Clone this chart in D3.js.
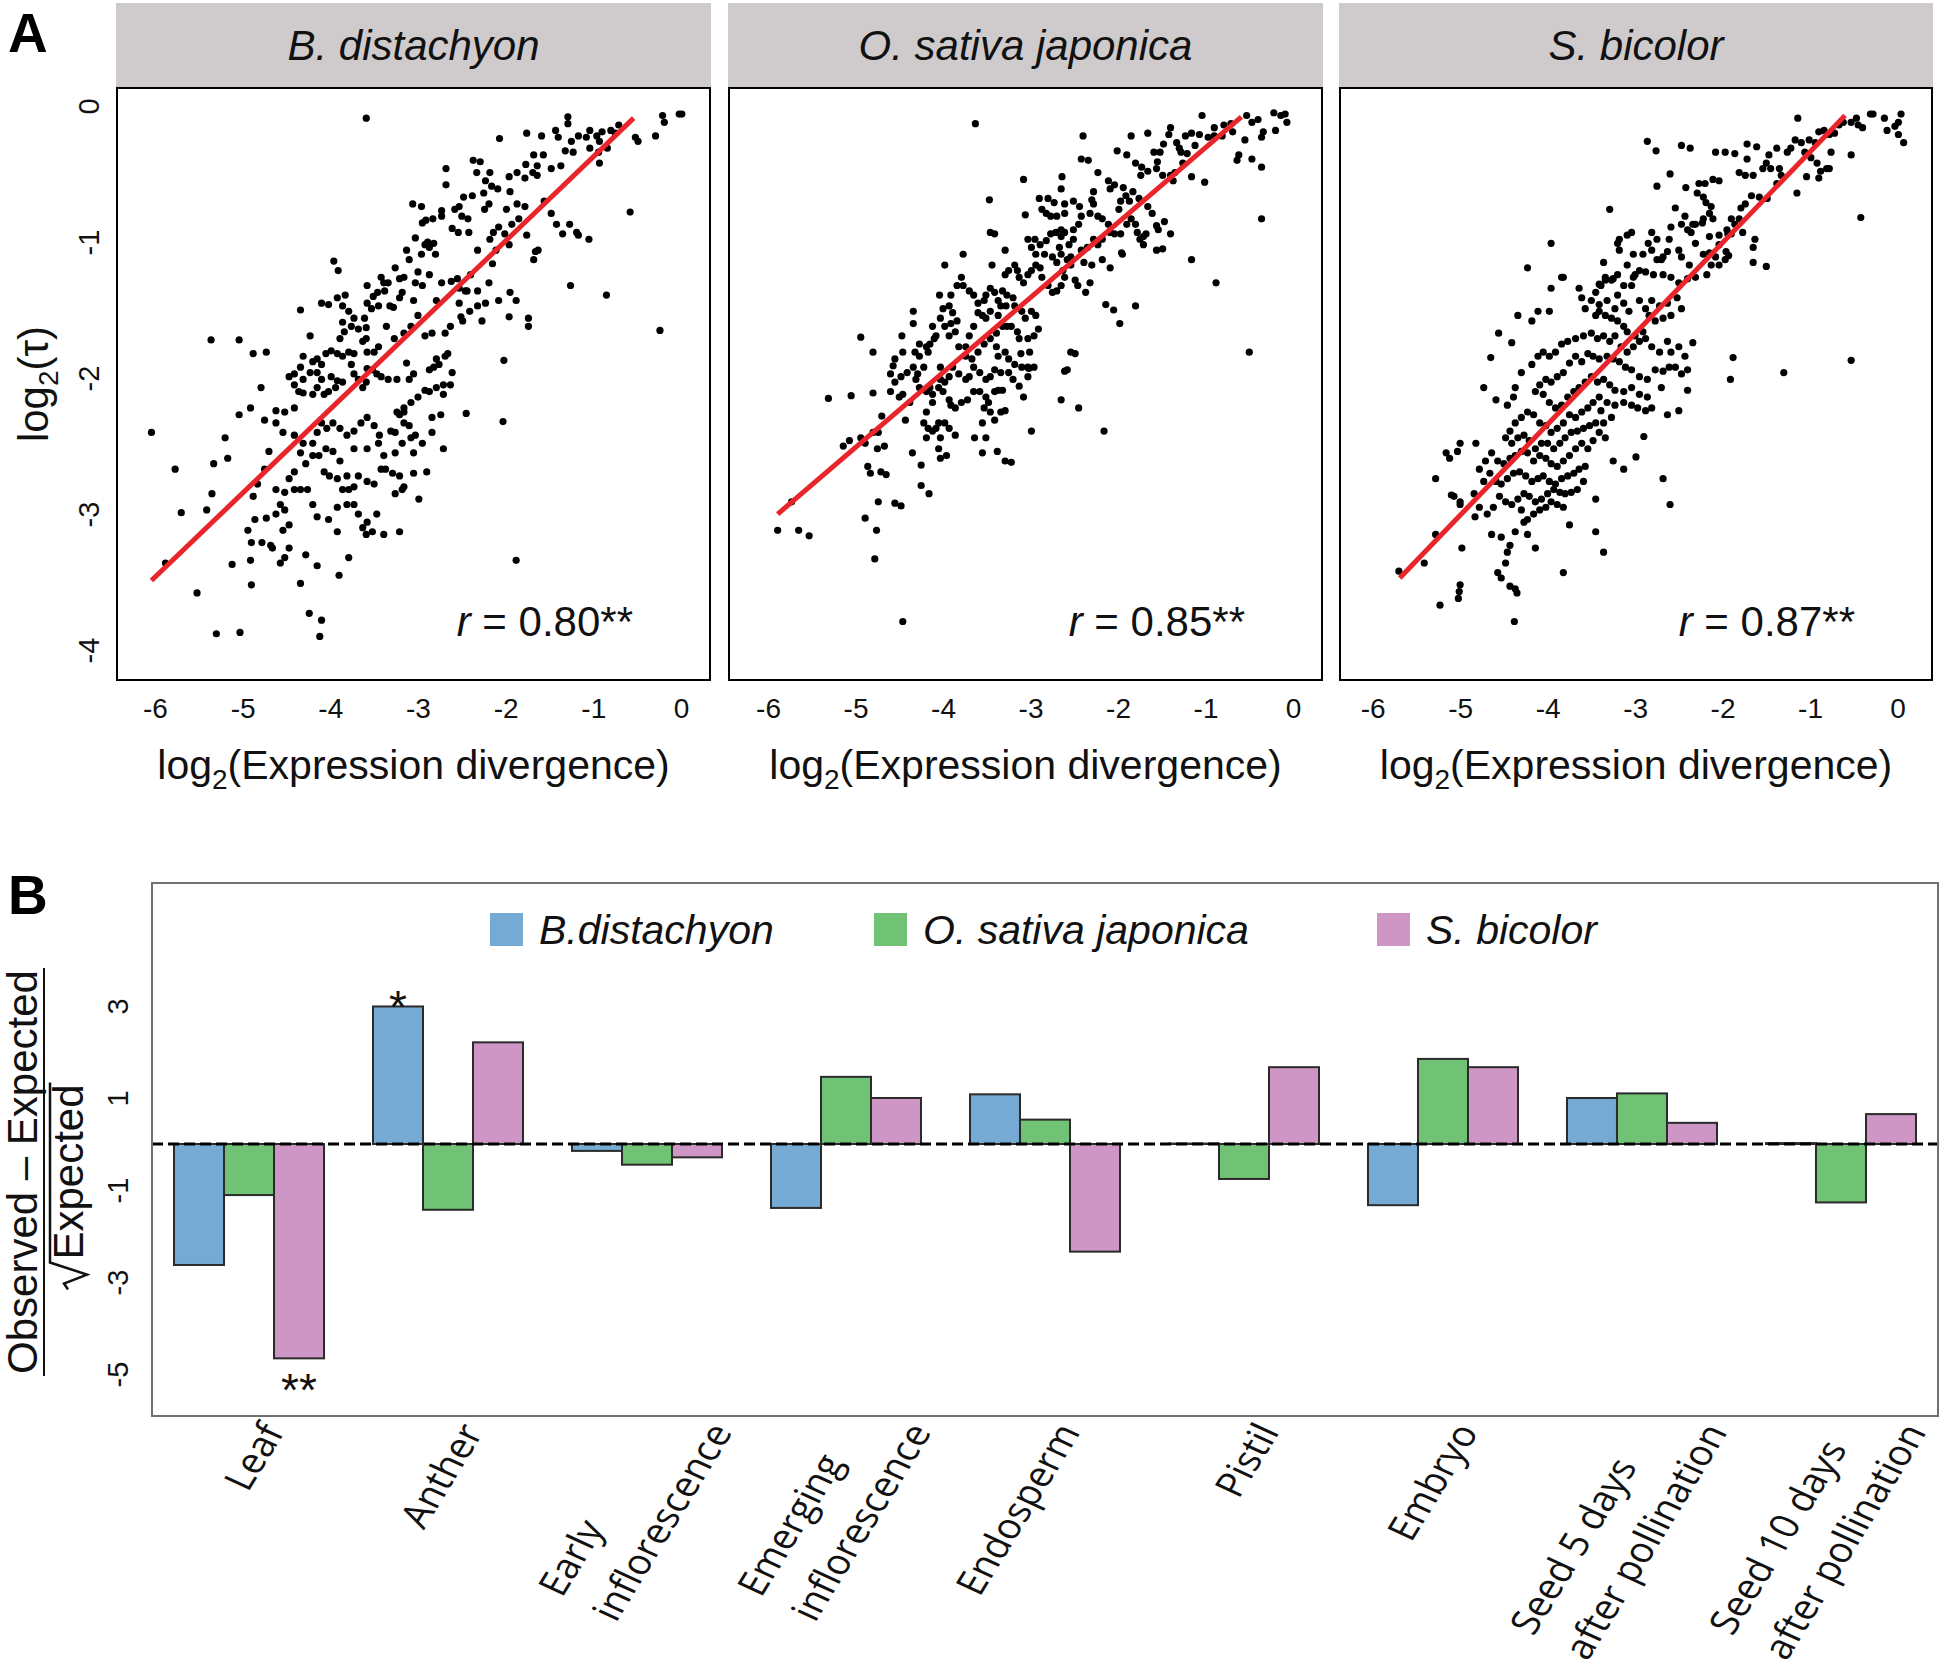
<!DOCTYPE html>
<html><head><meta charset="utf-8">
<script src="https://cdn.jsdelivr.net/npm/d3@7"></script>
<style>body{margin:0;background:#fff}</style>
</head><body>
<script>
// ---------------- DATA ----------------
const speciesNames = ["B. distachyon", "O. sativa japonica", "S. bicolor"];
const rValues = ["0.80", "0.85", "0.87"];
const xTicksA = [-6, -5, -4, -3, -2, -1, 0];
const yTicksA = [0, -1, -2, -3, -4];

const fitBd = {x0: -6.04, x1: -0.54, slope: 0.618, intercept: 0.244};
const fitOs = {x0: -5.89, x1: -0.59, slope: 0.551, intercept: 0.245};
const fitSb = {x0: -5.69, x1: -0.60, slope: 0.668, intercept: 0.331};

const pointsBd = [[-3.59,-0.09],[-1.29,-0.08],[-1.29,-0.13],[-0.21,-0.07],[-0.02,-0.06],[0.01,-0.06],[-0.19,-0.12],[-0.29,-0.22],[-0.52,-0.23],[-0.49,-0.26],[-0.58,-0.78],[-0.24,-1.65],[-1.26,-1.32],[-0.85,-1.39],[-1.05,-0.98],[-1.04,-0.18],[-0.96,-0.22],[-0.90,-0.19],[-0.80,-0.18],[-0.71,-0.14],[-0.75,-0.20],[-0.93,-0.26],[-0.84,-0.31],[-0.94,-0.34],[-0.93,-0.42],[-1.04,-0.31],[-1.08,-0.23],[-1.17,-0.22],[-1.25,-0.26],[-1.23,-0.34],[-1.32,-0.33],[-1.40,-0.23],[-1.43,-0.18],[-1.59,-0.22],[-1.76,-0.20],[-2.07,-0.24],[-1.68,-0.36],[-1.57,-0.36],[-1.37,-0.44],[-1.48,-0.46],[-1.64,-0.44],[-1.69,-0.49],[-1.77,-0.43],[-1.78,-0.53],[-1.87,-0.49],[-1.96,-0.52],[-1.95,-0.63],[-2.09,-0.61],[-2.16,-0.59],[-2.18,-0.49],[-2.29,-0.41],[-2.37,-0.40],[-2.33,-0.49],[-2.23,-0.55],[-2.25,-0.64],[-2.19,-0.72],[-2.24,-0.76],[-2.38,-0.66],[-2.48,-0.67],[-2.53,-0.74],[-2.58,-0.76],[-2.50,-0.81],[-2.43,-0.83],[-2.42,-0.93],[-2.54,-0.93],[-2.61,-0.90],[-2.68,-0.58],[-2.68,-0.46],[-2.73,-0.77],[-2.73,-0.81],[-2.83,-0.83],[-2.91,-0.84],[-2.95,-0.86],[-3.06,-0.72],[-2.96,-0.74],[-3.03,-0.97],[-2.89,-1.00],[-2.82,-1.01],[-2.80,-1.09],[-2.87,-1.04],[-2.92,-1.02],[-2.96,-1.09],[-3.13,-1.06],[-3.10,-1.13],[-3.16,-1.26],[-3.26,-1.19],[-3.21,-1.27],[-3.00,-1.22],[-3.03,-1.30],[-3.05,-1.43],[-2.95,-1.32],[-2.87,-1.24],[-2.79,-1.43],[-2.73,-1.30],[-2.62,-1.29],[-2.55,-1.27],[-2.53,-1.34],[-2.46,-1.36],[-2.40,-1.24],[-2.32,-1.06],[-2.18,-0.98],[-2.14,-0.93],[-2.08,-0.89],[-1.99,-0.76],[-1.93,-0.87],[-1.87,-0.72],[-1.85,-0.83],[-1.78,-0.74],[-1.76,-0.95],[-1.66,-1.07],[-1.63,-1.06],[-1.68,-1.13],[-2.01,-0.94],[-1.96,-1.02],[-2.11,-1.06],[-2.15,-1.16],[-2.19,-1.30],[-2.32,-1.36],[-2.44,-1.36],[-2.41,-1.51],[-2.51,-1.55],[-2.49,-1.58],[-2.32,-1.47],[-2.23,-1.45],[-2.08,-1.43],[-1.95,-1.37],[-1.96,-1.55],[-1.88,-1.43],[-1.74,-1.56],[-1.74,-1.62],[-2.02,-1.87],[-2.03,-2.32],[-1.88,-3.34],[-1.64,-0.51],[-1.56,-0.70],[-1.48,-0.79],[-1.42,-0.87],[-1.35,-0.94],[-1.27,-0.87],[-1.19,-0.93],[-1.17,-0.95],
[-3.58,-1.32],[-3.51,-1.40],[-3.46,-1.37],[-3.38,-1.36],[-3.45,-1.47],[-3.32,-1.47],[-3.28,-1.48],[-3.21,-1.41],[-3.18,-1.37],[-3.42,-1.26],[-3.39,-1.30],[-3.34,-1.30],[-3.53,-1.49],[-3.58,-1.45],[-3.61,-1.56],[-3.59,-1.63],[-3.73,-1.56],[-3.79,-1.51],[-3.86,-1.47],[-3.83,-1.39],[-3.92,-1.41],[-3.96,-1.14],[-3.91,-1.21],[-4.10,-1.45],[-4.02,-1.46],[-4.34,-1.50],[-3.86,-1.59],[-3.84,-1.66],[-3.89,-1.71],[-3.76,-1.62],[-3.68,-1.64],[-3.59,-1.71],[-3.63,-1.73],[-3.58,-1.81],[-3.45,-1.77],[-3.50,-1.81],[-3.27,-1.71],[-3.16,-1.67],[-3.08,-1.62],[-3.00,-1.54],[-2.92,-1.69],[-2.84,-1.67],[-2.69,-1.67],[-2.63,-1.62],[-2.66,-1.82],[-2.79,-1.86],[-2.82,-1.92],[-2.87,-1.94],[-3.05,-1.97],[-3.13,-1.89],[-3.10,-2.01],[-3.24,-2.01],[-3.34,-2.01],[-3.42,-1.99],[-3.47,-1.97],[-3.52,-1.94],[-3.58,-1.93],[-3.59,-2.03],[-3.63,-2.07],[-3.68,-2.01],[-3.73,-1.97],[-3.76,-1.90],[-3.73,-1.82],[-3.79,-1.81],[-3.86,-1.84],[-3.92,-1.82],[-3.99,-1.80],[-4.05,-1.82],[-4.10,-1.90],[-4.15,-1.86],[-4.20,-1.88],[-4.23,-1.69],[-4.31,-1.84],[-4.34,-1.92],[-4.41,-1.97],[-4.47,-1.99],[-4.41,-2.05],[-4.31,-2.01],[-4.23,-1.96],[-4.15,-1.96],[-4.10,-2.01],[-3.99,-1.99],[-3.92,-2.02],[-3.86,-2.03],[-3.94,-2.07],[-4.02,-2.10],[-4.07,-2.12],[-4.15,-2.07],[-4.20,-2.12],[-4.31,-2.11],[-4.36,-2.10],[-4.41,-2.22],[-4.52,-2.25],[-4.62,-2.24],[-4.75,-2.31],[-4.79,-2.07],[-4.73,-1.81],[-4.88,-1.82],[-5.04,-1.72],[-5.36,-1.72],[-4.91,-2.22],[-5.04,-2.27],[-5.20,-2.44],[-5.17,-2.59],[-5.33,-2.63],[-5.35,-2.85],[-5.41,-2.97],[-5.70,-2.99],[-5.77,-2.67],[-5.88,-3.36],[-6.04,-2.40],[-5.52,-3.58],[-5.30,-3.88],[-5.03,-3.87],[-4.90,-3.52],[-5.12,-3.37],[-4.90,-3.21],[-4.86,-3.04],[-4.73,-3.03],[-4.66,-3.25],[-4.88,-2.87],[-4.83,-2.78],[-4.75,-2.67],[-4.70,-2.54],[-4.62,-2.33],[-4.54,-2.40],[-4.41,-2.42],[-4.31,-2.48],[-4.20,-2.48],[-4.15,-2.40],[-4.10,-2.33],[-4.04,-2.37],[-3.97,-2.33],[-3.89,-2.37],[-3.81,-2.42],[-3.73,-2.39],[-3.65,-2.33],[-3.58,-2.29],[-3.50,-2.35],[-3.44,-2.42],[-3.31,-2.39],[-3.26,-2.40],[-3.24,-2.25],[-3.16,-2.25],[-3.10,-2.35],[-3.18,-2.48],[-3.26,-2.55],[-3.39,-2.57],[-3.42,-2.67],[-3.50,-2.78],[-3.58,-2.76],[-3.68,-2.72],[-3.73,-2.80],[-3.81,-2.72],[-3.89,-2.61],[-3.97,-2.54],[-4.05,-2.52],[-4.13,-2.57],[-4.20,-2.57],[-4.28,-2.63],[-4.34,-2.55],[-4.41,-2.69],[-4.47,-2.74],[-4.41,-2.82],[-4.34,-2.82],[-4.26,-2.82],[-4.20,-2.93],[-4.15,-3.02],[-4.02,-3.04],[-3.92,-2.95],[-3.81,-2.93],[-3.79,-2.82],[-3.73,-2.93],[-3.68,-3.00],[-3.63,-3.10],[-3.58,-3.06],[-3.52,-3.13],[-3.47,-3.00],[-3.39,-3.15],[-3.26,-2.85],[-3.18,-2.82],[-3.05,-2.70],[-2.99,-2.89],[-2.90,-2.69],[-3.21,-3.13],[-3.59,-3.15],[-3.79,-3.32],[-3.90,-3.45],[-3.92,-3.13],[-4.15,-3.38],[-4.28,-3.30],[-4.34,-3.51],[-4.47,-3.25],[-4.52,-3.32],[-4.57,-3.36],[-4.54,-3.12],[-4.47,-3.08],[-4.68,-3.23],[-4.78,-3.21],[-4.94,-3.12],[-4.91,-3.34],[-4.62,-3.00],[-4.57,-2.93],[-4.52,-2.97],[-4.52,-2.84],[-4.62,-2.82],[-4.07,-2.69],[-4.01,-2.72],[-3.92,-2.74],[-3.86,-2.82],[-3.73,-2.52],[-3.58,-2.52],[-3.45,-2.48],[-3.37,-2.67],[-3.29,-2.70],[-2.84,-2.29],[-2.74,-2.27],[-2.71,-2.12],[-2.71,-2.05],[-2.63,-2.05],[-2.61,-1.96],[-2.69,-1.84],[-2.79,-2.07],[-2.87,-2.10],[-2.92,-2.09],[-3.00,-2.14],[-3.08,-2.18],[-3.16,-2.22],[-3.21,-2.27],[-3.16,-2.33],[-3.08,-2.44],[-3.05,-2.55],[-3.03,-2.42],[-2.95,-2.48],[-2.84,-2.40],[-2.45,-2.26],[-2.53,-1.45],[-2.27,-1.58],[-2.71,-2.52],[-3.16,-2.80],[-3.21,-2.72],[-3.36,-1.62],[-2.76,-1.90],[-4.24,-3.73],[-4.10,-3.78],[-4.12,-3.90]];

const pointsOs = [[-3.63,-0.13],[-1.04,-0.07],[-0.53,-0.07],[-0.47,-0.12],[-0.40,-0.10],[-0.22,-0.05],[-0.14,-0.07],[-0.09,-0.06],[-0.07,-0.12],[-0.20,-0.18],[-0.34,-0.19],[-0.36,-0.23],[-0.55,-0.25],[-0.62,-0.36],[-0.64,-0.40],[-0.47,-0.39],[-0.36,-0.45],[-0.50,-1.81],[-0.36,-0.83],[-0.88,-1.30],[-1.01,-0.56],[-1.16,-0.52],[-1.16,-1.13],[-0.90,-0.16],[-0.79,-0.14],[-0.71,-0.13],[-0.69,-0.19],[-0.81,-0.22],[-0.90,-0.22],[-0.97,-0.23],[-1.07,-0.21],[-1.16,-0.20],[-1.23,-0.22],[-1.33,-0.27],[-1.40,-0.16],[-1.42,-0.21],[-1.48,-0.28],[-1.52,-0.34],[-1.55,-0.41],[-1.59,-0.34],[-1.66,-0.20],[-1.85,-0.22],[-2.01,-0.33],[-1.90,-0.36],[-1.80,-0.42],[-1.73,-0.45],[-1.74,-0.51],[-1.66,-0.48],[-1.56,-0.46],[-1.49,-0.51],[-1.37,-0.55],[-1.35,-0.49],[-1.26,-0.42],[-1.21,-0.35],[-1.12,-0.29],[-1.28,-0.34],[-1.30,-0.31],[-2.40,-0.22],[-2.42,-0.39],[-2.34,-0.40],[-2.23,-0.49],[-2.11,-0.55],[-2.09,-0.61],[-2.04,-0.58],[-1.94,-0.60],[-1.91,-0.66],[-1.97,-0.70],[-1.99,-0.76],[-1.87,-0.70],[-1.83,-0.63],[-1.76,-0.68],[-1.66,-0.74],[-1.61,-0.79],[-1.56,-0.88],[-1.54,-0.91],[-1.40,-0.94],[-1.49,-1.05],[-1.56,-1.06],[-1.71,-0.96],[-1.75,-0.98],[-1.78,-0.93],[-1.80,-0.87],[-1.85,-0.83],[-1.90,-0.87],[-1.97,-0.94],[-1.95,-1.09],[-2.09,-1.19],[-2.18,-1.13],[-2.30,-1.17],[-2.39,-1.15],[-2.32,-1.30],[-2.37,-1.37],[-2.46,-1.32],[-2.49,-1.28],[-2.54,-1.17],[-2.54,-1.11],[-2.58,-1.13],[-2.65,-1.09],[-2.67,-1.04],[-2.65,-0.96],[-2.61,-0.93],[-2.51,-0.91],[-2.45,-0.87],[-2.42,-0.81],[-2.32,-0.79],[-2.28,-0.72],[-2.23,-0.81],[-2.18,-0.83],[-2.11,-0.87],[-2.09,-0.93],[-2.04,-0.94],[-2.18,-0.98],[-2.23,-1.02],[-2.28,-0.98],[-2.35,-1.04],[-2.42,-1.06],[-2.51,-0.98],[-2.56,-1.02],[-2.65,-0.91],[-2.61,-0.79],[-2.61,-0.72],[-2.51,-0.70],[-2.44,-0.74],[-2.28,-0.63],[-2.30,-0.69],[-2.65,-0.61],[-2.64,-0.52],[-2.73,-0.71],[-2.80,-0.68],[-2.90,-0.68],[-2.87,-0.76],[-2.82,-0.79],[-2.77,-0.81],[-2.70,-0.81],[-2.71,-0.93],[-2.77,-0.94],[-2.82,-0.99],[-2.89,-1.02],[-2.95,-0.98],[-2.99,-1.04],[-3.03,-0.98],[-3.08,-0.54],[-3.47,-0.69],[-3.06,-0.80],[-2.94,-1.09],[-2.84,-1.09],[-2.75,-1.11],[-2.70,-1.15],[-2.63,-1.21],[-2.61,-1.26],[-2.65,-1.32],[-2.70,-1.36],[-2.75,-1.37],[-2.80,-1.32],[-2.87,-1.26],[-2.89,-1.19],[-2.94,-1.17],[-2.99,-1.21],[-3.03,-1.24],[-3.08,-1.30],[-3.13,-1.26],[-3.15,-1.21],[-3.18,-1.17],[-3.25,-1.21],[-3.29,-1.24],[-3.32,-1.36],[-3.27,-1.39],[-3.20,-1.41],[-3.18,-1.47],[-3.10,-1.51],[-3.06,-1.56],[-2.99,-1.51],[-2.94,-1.54],[-2.91,-1.64],[-2.96,-1.69],[-3.03,-1.71],[-3.13,-1.71],[-3.15,-1.66],[-3.22,-1.62],[-3.27,-1.62],[-3.34,-1.47],[-3.37,-1.43],[-3.41,-1.37],[-3.46,-1.34],[-3.51,-1.39],[-3.53,-1.43],[-3.60,-1.45],[-3.65,-1.39],[-3.70,-1.36],[-3.77,-1.32],[-3.79,-1.26],[-3.84,-1.32],[-3.91,-1.39],[-3.93,-1.47],[-3.89,-1.52],[-3.84,-1.58],[-3.86,-1.66],[-3.93,-1.69],[-3.98,-1.62],[-4.03,-1.56],[-4.00,-1.49],[-4.04,-1.39],[-3.98,-1.17],[-3.77,-1.09],[-3.44,-1.17],[-3.41,-0.94],[-3.46,-0.93],[-3.29,-1.06],[-3.28,-1.47],[-3.37,-1.54],[-3.46,-1.51],[-3.51,-1.56],[-3.55,-1.54],[-3.60,-1.52],[-3.65,-1.62],[-3.70,-1.69],[-3.74,-1.77],[-3.82,-1.77],[-3.74,-1.84],[-3.67,-1.86],[-3.60,-1.81],[-3.53,-1.75],[-3.46,-1.71],[-3.39,-1.67],[-3.32,-1.62],[-3.39,-1.77],[-3.37,-1.84],[-3.29,-1.81],[-3.25,-1.86],[-3.18,-1.90],[-3.10,-1.92],[-3.03,-1.92],[-2.96,-1.92],[-3.01,-1.81],[-3.03,-1.99],[-3.13,-2.06],[-3.20,-2.01],[-3.25,-1.96],[-3.34,-1.96],[-3.41,-1.94],[-3.46,-1.99],[-3.51,-2.01],[-3.58,-1.96],[-3.65,-1.92],[-3.70,-1.99],[-3.74,-2.01],[-3.82,-1.97],[-3.89,-1.92],[-3.93,-1.99],[-3.98,-2.03],[-4.03,-2.01],[-4.05,-2.07],[-4.00,-2.10],[-3.93,-2.16],[-3.91,-2.20],[-3.86,-2.22],[-3.79,-2.18],[-3.72,-2.16],[-3.65,-2.10],[-3.58,-2.10],[-3.51,-2.14],[-3.41,-2.10],[-3.37,-2.09],[-3.32,-2.09],[-3.48,-2.18],[-3.53,-2.22],[-3.46,-2.25],[-3.55,-2.33],[-3.29,-2.24],[-3.34,-2.25],[-3.41,-2.31],[-2.99,-2.39],[-3.08,-2.14],[-3.11,-1.82],[-3.02,-1.93],[-2.54,-1.81],[-2.49,-1.82],[-2.58,-1.94],[-2.61,-1.95],[-2.65,-2.16],[-2.45,-2.22],[-2.16,-2.39],[-2.14,-1.46],[-2.05,-1.50],[-1.98,-1.60],[-1.80,-1.47],[-1.96,-1.08],[-1.68,-0.94],[-1.71,-1.02],[-1.47,-0.85],[-1.40,-0.51],[-4.34,-1.51],[-4.34,-1.60],[-4.47,-1.69],[-4.46,-1.81],[-4.55,-1.86],[-4.57,-1.91],[-4.60,-1.97],[-4.55,-2.03],[-4.48,-1.99],[-4.41,-1.96],[-4.34,-1.92],[-4.27,-1.84],[-4.19,-1.77],[-4.15,-1.75],[-4.10,-1.71],[-4.08,-1.69],[-4.17,-1.81],[-4.22,-1.92],[-4.29,-1.97],[-4.31,-2.01],[-4.27,-2.07],[-4.19,-2.10],[-4.15,-2.07],[-4.12,-2.12],[-4.12,-2.18],[-4.19,-2.25],[-4.22,-2.33],[-4.17,-2.37],[-4.12,-2.39],[-4.08,-2.37],[-4.05,-2.33],[-3.98,-2.33],[-3.93,-2.37],[-4.03,-2.44],[-4.05,-2.52],[-4.03,-2.59],[-3.96,-2.57],[-3.86,-2.42],[-4.19,-2.44],[-4.38,-2.18],[-4.43,-2.31],[-4.46,-2.12],[-4.50,-2.14],[-4.60,-2.10],[-4.70,-2.28],[-4.74,-2.40],[-4.67,-2.50],[-4.75,-2.52],[-4.80,-2.40],[-4.89,-2.48],[-4.94,-2.44],[-5.07,-2.46],[-5.14,-2.50],[-4.80,-2.11],[-5.05,-2.13],[-5.31,-2.15],[-4.94,-1.70],[-4.80,-1.81],[-4.71,-2.69],[-4.83,-2.70],[-4.65,-2.71],[-4.86,-2.65],[-4.74,-2.91],[-4.55,-2.92],[-4.48,-2.94],[-4.25,-2.79],[-4.16,-2.85],[-4.25,-2.64],[-4.35,-2.55],[-4.89,-3.03],[-4.76,-3.12],[-4.78,-3.33],[-5.89,-3.12],[-5.65,-3.12],[-5.53,-3.16],[-5.73,-2.91],[-4.46,-3.79],[-3.64,-2.44],[-3.55,-2.55],[-3.38,-2.54],[-3.29,-2.61],[-3.22,-2.62],[-3.51,-2.44],[-4.27,-1.75],[-4.12,-1.62],[-4.32,-1.81],[-4.03,-1.92],[-3.91,-1.60]];

const pointsSb = [[-1.14,-0.09],[-0.90,-0.19],[-0.84,-0.18],[-0.78,-0.21],[-0.72,-0.20],[-0.67,-0.14],[-0.62,-0.12],[-0.53,-0.12],[-0.47,-0.09],[-0.45,-0.14],[-0.40,-0.16],[-0.31,-0.06],[-0.28,-0.06],[-0.15,-0.09],[-0.12,-0.18],[-0.03,-0.15],[0.01,-0.12],[0.04,-0.06],[0.01,-0.21],[0.07,-0.27],[-0.53,-0.36],[-0.42,-0.82],[-0.53,-1.87],[-0.76,-0.34],[-0.78,-0.46],[-0.90,-0.53],[-1.04,-0.52],[-1.15,-0.64],[-0.99,-0.38],[-1.06,-0.34],[-0.94,-0.27],[-1.01,-0.25],[-1.10,-0.27],[-1.17,-0.25],[-1.22,-0.31],[-1.26,-0.34],[-1.38,-0.31],[-1.47,-0.36],[-1.50,-0.42],[-1.61,-0.30],[-1.72,-0.28],[-1.72,-0.39],[-1.86,-0.35],[-1.97,-0.34],[-2.08,-0.34],[-1.81,-0.49],[-1.74,-0.51],[-1.65,-0.51],[-1.54,-0.46],[-1.45,-0.46],[-1.35,-0.46],[-1.33,-0.51],[-1.38,-0.57],[-1.49,-0.68],[-1.58,-0.67],[-1.67,-0.66],[-1.79,-0.75],[-1.81,-0.83],[-1.90,-0.83],[-1.95,-0.91],[-1.90,-0.94],[-1.93,-1.10],[-1.65,-1.04],[-1.65,-1.15],[-1.50,-1.18],[-2.04,-0.55],[-2.11,-0.54],[-2.20,-0.57],[-2.27,-0.57],[-2.29,-0.64],[-2.22,-0.67],[-2.19,-0.71],[-2.13,-0.74],[-2.15,-0.79],[-2.11,-0.83],[-2.22,-0.83],[-2.31,-0.87],[-2.36,-0.93],[-2.40,-0.91],[-2.47,-0.87],[-2.54,-0.75],[-2.43,-0.81],[-2.59,-0.89],[-2.61,-0.98],[-2.63,-1.07],[-2.68,-1.11],[-2.75,-1.13],[-2.81,-1.06],[-2.85,-1.01],[-2.81,-0.93],[-2.91,-1.09],[-2.95,-1.21],[-3.02,-1.26],[-3.04,-1.32],[-3.09,-1.17],[-3.18,-1.06],[-3.20,-1.01],[-3.29,-0.76],[-3.13,-1.32],[-3.20,-1.39],[-3.25,-1.27],[-3.34,-1.28],[-3.41,-1.31],
[-2.34,-0.87],[-2.23,-0.86],[-2.15,-0.96],[-2.04,-0.95],[-1.94,-0.94],[-1.86,-0.87],[-3.18,-0.98],[-3.09,-0.95],[-3.04,-0.93],[-3.02,-1.09],[-2.75,-0.98],[-2.70,-1.13],[-2.50,-1.06],[-2.47,-1.11],[-2.38,-1.17],[-2.31,-1.01],[-2.22,-1.09],[-2.15,-1.08],[-2.08,-1.11],[-2.04,-1.17],[-2.13,-1.17],[-2.18,-1.24],[-2.31,-1.26],[-2.40,-1.27],[-2.50,-1.30],[-2.59,-1.26],[-2.68,-1.24],[-2.79,-1.24],[-2.88,-1.22],[-3.00,-1.24],[-3.20,-1.24],[-3.27,-1.28],[-3.34,-1.26],[-3.39,-1.32],[-3.45,-1.37],[-3.50,-1.43],[-3.41,-1.46],[-3.32,-1.43],[-3.23,-1.49],[-3.13,-1.45],[-3.07,-1.51],[-2.95,-1.43],[-2.88,-1.49],[-2.81,-1.43],[-2.72,-1.47],[-2.63,-1.45],[-2.52,-1.41],[-2.47,-1.49],[-2.59,-1.54],[-2.68,-1.56],[-2.77,-1.58],[-2.84,-1.54],[-2.91,-1.66],[-3.00,-1.69],[-3.09,-1.66],[-3.13,-1.62],[-3.20,-1.58],[-3.27,-1.56],[-3.34,-1.54],[-3.41,-1.51],[-3.45,-1.54],[-3.57,-1.49],[-3.61,-1.41],[-3.64,-1.34],[-3.82,-1.26],[-3.96,-1.01],[-3.96,-1.34],[-4.23,-1.19],[-3.98,-1.51],[-4.11,-1.51],[-4.18,-1.58],[-4.34,-1.54],[-4.41,-1.74],[-4.56,-1.67],[-4.65,-1.85],[-4.73,-2.07],[-4.59,-2.16],[-4.46,-2.20],[-4.39,-2.14],[-4.37,-2.07],[-4.30,-1.96],[-4.18,-1.90],[-4.11,-1.84],[-4.05,-1.81],[-3.98,-1.84],[-3.91,-1.81],[-3.84,-1.75],[-3.77,-1.73],[-3.68,-1.71],[-3.59,-1.69],[-3.50,-1.67],[-3.43,-1.71],[-3.36,-1.69],[-3.29,-1.73],[-3.23,-1.69],[-3.16,-1.77],[-3.09,-1.81],[-3.02,-1.77],[-2.95,-1.73],[-2.88,-1.71],[-2.81,-1.77],[-2.72,-1.81],[-2.63,-1.73],[-2.59,-1.81],[-2.50,-1.77],[-2.43,-1.84],[-2.34,-1.74],[-2.40,-1.94],[-2.47,-1.97],[-2.54,-1.92],[-2.61,-1.92],[-2.68,-1.95],[-2.77,-1.94],[-2.86,-2.01],[-2.95,-1.99],[-3.04,-1.94],[-3.11,-1.92],[-3.18,-1.88],[-3.25,-1.86],[-3.32,-1.84],[-3.41,-1.86],[-3.48,-1.84],[-3.54,-1.82],[-3.61,-1.88],[-3.68,-1.84],[-3.75,-1.89],[-3.82,-1.96],[-3.89,-1.99],[-3.96,-2.03],[-4.02,-2.01],[-4.09,-2.05],[-4.14,-2.10],[-4.05,-2.12],[-3.98,-2.18],[-3.91,-2.22],[-3.84,-2.20],[-3.77,-2.14],[-3.70,-2.10],[-3.64,-2.07],[-3.57,-2.03],[-3.50,-1.99],[-3.43,-2.03],[-3.36,-2.01],[-3.29,-2.05],[-3.23,-2.09],[-3.13,-2.10],[-3.04,-2.07],[-2.95,-2.12],[-2.86,-2.14],[-2.81,-2.22],[-2.88,-2.24],[-2.97,-2.22],[-3.04,-2.20],[-3.13,-2.18],[-3.23,-2.20],[-3.32,-2.18],[-3.41,-2.14],[-3.48,-2.18],[-3.54,-2.22],[-3.61,-2.25],[-3.68,-2.29],[-3.75,-2.27],[-3.82,-2.33],[-3.89,-2.37],[-3.96,-2.40],[-4.02,-2.35],[-4.09,-2.33],[-4.16,-2.27],[-4.23,-2.25],[-4.30,-2.29],[-4.37,-2.33],[-4.43,-2.39],[-4.48,-2.44],[-4.41,-2.48],[-4.34,-2.44],[-4.27,-2.42],[-4.21,-2.46],[-4.14,-2.52],[-4.07,-2.48],[-4.00,-2.48],[-3.93,-2.52],[-3.86,-2.48],[-3.80,-2.44],[-3.73,-2.40],[-3.66,-2.39],[-3.59,-2.37],[-3.52,-2.35],[-3.45,-2.33],[-3.36,-2.33],[-3.27,-2.29],[-3.39,-2.24],[-3.34,-2.44],[-3.41,-2.40],[-3.48,-2.46],[-3.54,-2.52],[-3.61,-2.48],[-3.68,-2.52],[-3.75,-2.57],[-3.82,-2.61],[-3.89,-2.65],[-3.96,-2.63],[-4.02,-2.59],[-4.09,-2.57],[-4.16,-2.61],[-4.23,-2.55],[-4.30,-2.54],[-4.37,-2.57],[-4.43,-2.59],[-4.50,-2.63],[-4.57,-2.61],[-4.64,-2.55],[-4.71,-2.61],[-4.78,-2.67],[-4.82,-2.48],[-5.00,-2.48],[-5.03,-2.54],[-5.16,-2.55],[-5.12,-2.59],[-5.28,-2.74],[-5.07,-2.87],[-5.00,-2.91],[-4.84,-2.85],[-4.78,-2.95],[-4.73,-2.76],[-4.66,-2.70],[-4.59,-2.76],[-4.53,-2.78],[-4.46,-2.74],[-4.39,-2.70],[-4.32,-2.69],[-4.25,-2.72],[-4.18,-2.76],[-4.11,-2.74],[-4.05,-2.72],[-3.98,-2.76],[-3.91,-2.78],[-3.84,-2.74],[-3.77,-2.72],[-3.70,-2.70],[-3.64,-2.67],[-3.57,-2.65],[-3.59,-2.76],[-3.66,-2.82],[-3.73,-2.84],[-3.80,-2.85],[-3.86,-2.84],[-3.93,-2.82],[-4.00,-2.85],[-4.07,-2.89],[-4.14,-2.91],[-4.21,-2.87],[-4.27,-2.85],[-4.34,-2.89],[-4.41,-2.93],[-4.48,-2.91],[-4.55,-2.87],[-4.62,-2.95],[-4.69,-3.00],[-4.64,-3.15],[-4.53,-3.17],[-4.43,-3.23],[-4.37,-3.13],[-4.30,-2.97],[-4.23,-3.04],[-4.16,-3.00],[-4.09,-2.97],[-4.02,-2.95],[-3.96,-2.91],[-3.89,-2.93],[-3.82,-2.95],[-3.75,-3.08],[-3.45,-2.89],[-3.36,-3.28],[-3.45,-3.13],[-3.25,-2.61],[-3.13,-2.67],[-2.99,-2.58],[-2.90,-2.43],[-2.68,-2.74],[-2.60,-2.93],[-2.70,-2.07],[-2.63,-2.27],[-2.50,-2.24],[-2.40,-2.09],[-1.91,-2.01],[-1.88,-1.85],[-1.30,-1.96],[-4.14,-3.25],[-4.27,-3.06],[-4.23,-3.15],[-4.46,-3.28],[-4.48,-3.36],[-4.57,-3.43],[-4.53,-3.47],[-4.43,-3.53],[-4.37,-3.55],[-4.35,-3.58],[-3.82,-3.43],[-4.38,-3.79],[-5.00,-3.52],[-5.01,-3.57],[-5.02,-3.62],[-5.23,-3.67],[-5.28,-3.15],[-5.41,-3.36],[-5.70,-3.42],[-4.98,-3.25],[-4.83,-3.02],[-5.00,-2.93],[-5.10,-2.86],[-2.86,-0.26],[-2.76,-0.33],[-2.47,-0.29],[-2.37,-0.31],[-2.60,-0.50],[-2.75,-0.59],[-2.42,-0.60],[-3.36,-1.15],[-3.84,-1.26],[-0.92,-0.42],[-0.88,-0.48],[-0.81,-0.46],[-1.74,-0.72],[-1.77,-0.93],[-1.63,-0.98],[-1.96,-1.07],[-2.04,-1.02],[-1.97,-1.13]];

// Panel B
const tissues = ["Leaf", "Anther", "Early inflorescence", "Emerging inflorescence", "Endosperm", "Pistil", "Embryo", "Seed 5 days after pollination", "Seed 10 days after pollination"];
const tissueLabelLines = [["Leaf"], ["Anther"], ["Early", "inflorescence"], ["Emerging", "inflorescence"], ["Endosperm"], ["Pistil"], ["Embryo"], ["Seed 5 days", "after pollination"], ["Seed 10 days", "after pollination"]];
const seriesNames = ["B.distachyon", "O. sativa japonica", "S. bicolor"];
const valuesBd = [-2.63, 2.99, -0.15, -1.39, 1.08, 0.01, -1.33, 1.00, 0.02];
const valuesOs = [-1.11, -1.43, -0.45, 1.46, 0.53, -0.76, 1.85, 1.10, -1.27];
const valuesSb = [-4.66, 2.21, -0.29, 1.00, -2.34, 1.67, 1.67, 0.46, 0.65];
const yTicksB = [3, 1, -1, -3, -5];
const significance = [{tissue: "Leaf", series: 2, label: "**"}, {tissue: "Anther", series: 0, label: "*"}];
const seriesColors = ["#74aad4", "#70c274", "#cd96c5"];

// ---------------- DRAW ----------------
const FONT = "'Liberation Sans', Arial, Helvetica, sans-serif";
const svg = d3.select("body").append("svg").attr("width", 1946).attr("height", 1675)
  .style("background", "#fff").attr("font-family", FONT);

// Panel A
const yA = d3.scaleLinear().domain([-4.22, 0.132]).range([680, 88]);
const panelsA = [
  {name: speciesNames[0], pts: pointsBd, fit: fitBd, r: rValues[0], left: 117, right: 710, dom: [-6.433, 0.331]},
  {name: speciesNames[1], pts: pointsOs, fit: fitOs, r: rValues[1], left: 729, right: 1322, dom: [-6.446, 0.331]},
  {name: speciesNames[2], pts: pointsSb, fit: fitSb, r: rValues[2], left: 1340, right: 1932, dom: [-6.373, 0.394]}
];

panelsA.forEach((p, pi) => {
  const x = d3.scaleLinear().domain(p.dom).range([p.left, p.right]);
  const cx = (p.left + p.right) / 2;
  svg.append("rect").attr("x", p.left - 1).attr("y", 3).attr("width", p.right - p.left + 2).attr("height", 84)
    .attr("fill", "#cfcbcc");
  svg.append("text").attr("x", cx).attr("y", 60).attr("text-anchor", "middle")
    .attr("font-style", "italic").attr("font-size", 42).attr("fill", "#111").text(p.name);

  svg.append("g").selectAll("circle").data(p.pts).join("circle")
    .attr("cx", d => x(d[0])).attr("cy", d => yA(d[1])).attr("r", 3.6).attr("fill", "#000");

  const f = p.fit;
  svg.append("line")
    .attr("x1", x(f.x0)).attr("y1", yA(f.intercept + f.slope * f.x0))
    .attr("x2", x(f.x1)).attr("y2", yA(f.intercept + f.slope * f.x1))
    .attr("stroke", "#e8252a").attr("stroke-width", 5);

  svg.append("rect").attr("x", p.left).attr("y", 88).attr("width", p.right - p.left).attr("height", 592)
    .attr("fill", "none").attr("stroke", "#000").attr("stroke-width", 2);

  const ax = svg.append("g").attr("transform", "translate(0,680)")
    .call(d3.axisBottom(x).tickValues(xTicksA).tickSize(0).tickPadding(18).tickFormat(d => String(d)));
  ax.select(".domain").remove();
  ax.selectAll("text").attr("font-family", FONT).attr("font-size", 28).attr("fill", "#111");

  const t = svg.append("text").attr("x", cx).attr("y", 779).attr("text-anchor", "middle")
    .attr("font-size", 41).attr("fill", "#111");
  t.append("tspan").text("log");
  t.append("tspan").attr("dy", 10).attr("font-size", 28).text("2");
  t.append("tspan").attr("dy", -10).text("(Expression divergence)");

  const rt = svg.append("text").attr("x", p.right - 77).attr("y", 636).attr("text-anchor", "end")
    .attr("font-size", 42).attr("fill", "#111");
  rt.append("tspan").attr("font-style", "italic").text("r");
  rt.append("tspan").text(" = " + p.r + "**");
});

const ayA = svg.append("g").attr("transform", "translate(117,0)")
  .call(d3.axisLeft(yA).tickValues(yTicksA).tickSize(0).tickFormat(d => String(d)));
ayA.select(".domain").remove();
ayA.selectAll("text").attr("x", null).attr("dy", null).attr("text-anchor", "middle")
  .attr("transform", "translate(-18,0) rotate(-90)").attr("font-family", FONT).attr("font-size", 29).attr("fill", "#111");

const yt = svg.append("text").attr("transform", "translate(48,384) rotate(-90)").attr("text-anchor", "middle")
  .attr("font-size", 42).attr("fill", "#111");
yt.append("tspan").text("log");
yt.append("tspan").attr("dy", 10).attr("font-size", 28).text("2");
yt.append("tspan").attr("dy", -10).text("(\u03c4)");

svg.append("text").attr("x", 8).attr("y", 52).attr("font-size", 55).attr("font-weight", "bold").text("A");

// Panel B
const bL = 152, bR = 1938, bT = 883, bB = 1416;
const x0 = d3.scaleBand().domain(tissues).range([bL, bR]).paddingInner(0.2462).paddingOuter(0.1106);
const x1 = d3.scaleBand().domain([0, 1, 2]).range([0, x0.bandwidth()]);
const yB = d3.scaleLinear().domain([-5.913, 5.674]).range([bB, bT]);
const seriesVals = [valuesBd, valuesOs, valuesSb];

const barData = [];
tissues.forEach((t, i) => seriesVals.forEach((vals, s) => barData.push({tissue: t, s, v: vals[i]})));

svg.append("g").selectAll("rect").data(barData).join("rect")
  .attr("x", d => x0(d.tissue) + x1(d.s))
  .attr("y", d => yB(Math.max(0, d.v)))
  .attr("width", x1.bandwidth())
  .attr("height", d => Math.abs(yB(d.v) - yB(0)))
  .attr("fill", d => seriesColors[d.s])
  .attr("stroke", "#2b2b2b").attr("stroke-width", 2);

svg.append("line").attr("x1", bL).attr("x2", bR).attr("y1", yB(0)).attr("y2", yB(0))
  .attr("stroke", "#000").attr("stroke-width", 3).attr("stroke-dasharray", "11,5");

svg.append("rect").attr("x", bL).attr("y", bT).attr("width", bR - bL).attr("height", bB - bT)
  .attr("fill", "none").attr("stroke", "#707070").attr("stroke-width", 2);

// significance marks
significance.forEach(sg => {
  const i = tissues.indexOf(sg.tissue);
  const v = seriesVals[sg.series][i];
  const xc = x0(sg.tissue) + x1(sg.series) + x1.bandwidth() / 2;
  const yy = v >= 0 ? yB(v) + 17 : yB(v) + 48;
  svg.append("text").attr("x", xc).attr("y", yy).attr("text-anchor", "middle").attr("font-size", 46)
    .attr("fill", "#111").text(sg.label);
});

const ayB = svg.append("g").attr("transform", `translate(${bL},0)`)
  .call(d3.axisLeft(yB).tickValues(yTicksB).tickSize(0).tickFormat(d => String(d)));
ayB.select(".domain").remove();
ayB.selectAll("text").attr("x", null).attr("dy", null).attr("text-anchor", "middle")
  .attr("transform", "translate(-24,0) rotate(-90)").attr("font-family", FONT).attr("font-size", 29).attr("fill", "#111");

// y title fraction
const fr = svg.append("g").attr("transform", "translate(0,1172) rotate(-90)");
fr.append("text").attr("x", 0).attr("y", 37).attr("text-anchor", "middle").attr("font-size", 42)
  .attr("fill", "#111").text("Observed \u2013 Expected");
fr.append("line").attr("x1", -204).attr("x2", 204).attr("y1", 44).attr("y2", 44)
  .attr("stroke", "#111").attr("stroke-width", 2);
const expT = fr.append("text").attr("y", 83).attr("font-size", 42).attr("fill", "#111").text("Expected");
const Lw = expT.node().getComputedTextLength();
const Ls = 30;
const s0 = -15 - (Ls + Lw) / 2;
expT.attr("x", s0 + Ls);
fr.append("path")
  .attr("d", `M${s0},${83 - 15} L${s0 + 6},${83 - 19} L${s0 + 15},${83 + 4} L${s0 + 27},${50} L${s0 + Ls + Lw + 2},${50}`)
  .attr("fill", "none").attr("stroke", "#111").attr("stroke-width", 2.5);

// legend
const legendX = [490, 874, 1377];
seriesNames.forEach((n, i) => {
  svg.append("rect").attr("x", legendX[i]).attr("y", 913).attr("width", 33).attr("height", 33)
    .attr("fill", seriesColors[i]);
  svg.append("text").attr("x", legendX[i] + 49).attr("y", 944).attr("font-size", 41)
    .attr("font-style", "italic").attr("fill", "#111").text(n);
});

// x labels (rotated)
const LH = 53;
tissueLabelLines.forEach((lines, i) => {
  const cx = x0(tissues[i]) + x0.bandwidth() / 2;
  const n = lines.length;
  const ax = cx + 36 + 50 * (n - 1), ay = 1432;
  const g = svg.append("g").attr("transform", `translate(${ax},${ay}) scale(1.15,1) rotate(-62)`)
    .attr("font-family", "'Open Sans', 'Noto Sans', sans-serif").attr("font-size", 35).attr("fill", "#111");
  const last = g.append("text").attr("x", 0).attr("y", 0).attr("text-anchor", "end").text(lines[n - 1]);
  const L = last.node().getComputedTextLength();
  for (let k = 0; k < n - 1; k++) {
    g.append("text").attr("x", -L).attr("y", -(n - 1 - k) * LH).attr("text-anchor", "start").text(lines[k]);
  }
});

svg.append("text").attr("x", 8).attr("y", 914).attr("font-size", 55).attr("font-weight", "bold").text("B");
</script>
</body></html>
